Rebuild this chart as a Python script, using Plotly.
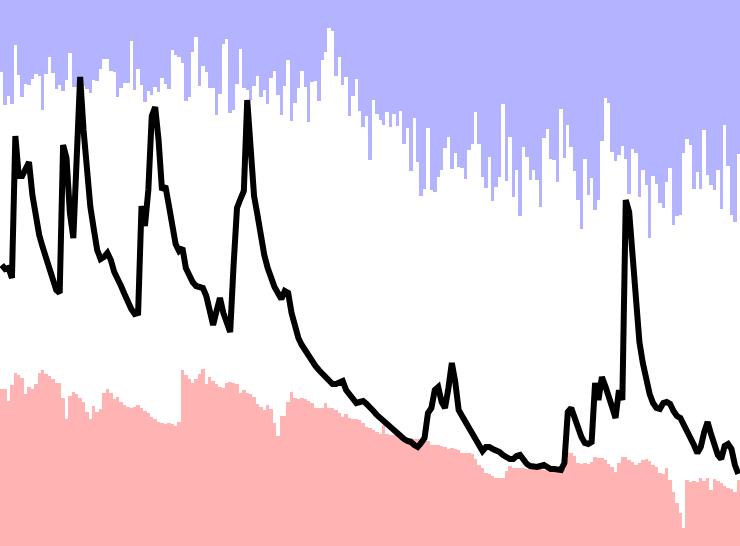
import plotly.graph_objects as go

# day index
days = list(range(1, 218))

# blue series (hanging from the top), length in chart units
blue = [72, 105, 96, 104, 45, 75, 97, 84, 85, 79, 74, 76, 110, 74, 57, 73, 89, 85, 91, 80,
        53, 87, 87, 87, 86, 89, 93, 80, 81, 69, 59, 59, 71, 72, 97, 88, 83, 83, 41, 90,
        69, 85, 102, 91, 95, 87, 92, 78, 84, 89, 50, 55, 57, 63, 101, 97, 52, 37, 86, 66,
        72, 88, 88, 115, 94, 44, 39, 113, 110, 84, 49, 88, 90, 100, 86, 76, 97, 90, 104, 78,
        71, 95, 115, 86, 60, 121, 103, 88, 71, 87, 122, 82, 81, 101, 60, 52, 28, 31, 76, 57,
        85, 77, 116, 96, 79, 111, 127, 116, 160, 100, 114, 120, 125, 112, 127, 114, 126, 111, 144, 128,
        171, 118, 162, 196, 189, 128, 190, 192, 177, 170, 148, 137, 169, 153, 167, 168, 179, 150, 144, 112,
        144, 177, 188, 157, 201, 187, 177, 104, 181, 137, 197, 170, 216, 147, 157, 180, 170, 180, 207, 138,
        129, 159, 160, 182, 109, 158, 125, 147, 171, 200, 229, 159, 195, 178, 210, 200, 141, 98, 103, 152,
        161, 155, 146, 159, 194, 149, 153, 197, 170, 185, 238, 176, 184, 203, 208, 182, 168, 225, 216, 215,
        153, 139, 145, 189, 172, 189, 130, 175, 185, 190, 170, 209, 125, 166, 215, 222, 154]

# red series (rising from the bottom)
red = [157, 157, 145.3, 161, 173.3, 171, 167.7, 151.7, 159.3, 156.7, 162, 172.7, 176, 172, 170.3, 166.7, 162.7, 162.7, 147.7, 127,
       150.3, 153.7, 151.7, 148.3, 143.7, 133.7, 126.7, 140, 134.3, 136.7, 153.3, 157, 153.3, 146.7, 148.7, 143.7, 141, 138.7, 137.7, 139.3,
       141, 137.7, 135.3, 132.7, 129.3, 126.7, 124.3, 122.7, 122, 122.7, 122, 120.3, 123.7, 176, 171, 166.7, 162.7, 166.7, 172, 177,
       162, 169.3, 165, 161.7, 158.7, 157.7, 163.3, 163.7, 163.3, 161.7, 153.3, 156, 153.3, 151.7, 149.3, 141.7, 138.7, 136, 141, 137,
       123.3, 110, 130.3, 130, 143.7, 153.7, 148.3, 146.7, 147.7, 147, 145, 142.7, 138.3, 138.3, 138.3, 143.3, 138.3, 137.7, 136, 133.3,
       129.3, 131.7, 127.7, 127, 126.7, 126, 123.3, 119.3, 117.7, 116, 114.3, 112, 121, 112, 111, 111, 110, 109, 109, 108,
       108, 107, 107, 107, 106, 105.3, 101, 101, 101, 100, 98.7, 97, 98.3, 96.7, 96, 93.3, 92.7, 92.7, 92, 86.7,
       81, 77.7, 73.3, 72, 70, 67.7, 68.3, 68.3, 75.3, 80, 78, 78, 78, 78, 77, 77, 78, 77, 77, 76,
       77, 77, 78, 77, 76, 77, 94.3, 92.7, 90, 83.3, 82, 83.3, 82, 84.3, 88.7, 87.7, 87.7, 86, 81.7, 78.7,
       73.7, 83.3, 88.7, 88.7, 86, 84.3, 81, 83.3, 86, 87, 85, 81, 78.7, 72.7, 71.7, 77.7, 66, 54.3, 42.7, 32.7,
       17.7, 66, 64.3, 65.3, 64.3, 67.7, 65, 67.7, 56, 66.7, 65, 62.7, 60, 58.3, 56.7, 54.3, 66]

# black line series
line = [281, 277, 278, 268, 410, 370, 370, 376, 384, 351, 326, 311, 299, 288, 276, 265, 256, 253, 401, 388,
        333, 308, 389, 469, 416, 368, 339, 317, 296, 287, 289, 293, 286, 274, 265, 260, 252, 244, 237, 232,
        233, 340, 320, 356, 430, 439, 406, 356, 360, 341, 317, 302, 295, 298, 278, 269, 264, 260, 259, 258,
        250, 236, 221, 235, 248, 233, 222, 214, 281, 338, 347, 355, 446, 396, 350, 331, 308, 291, 278, 266,
        259, 253, 247, 255, 253, 233, 219, 208, 201, 195, 189, 184, 180, 176, 172, 169, 165, 162, 162, 164,
        165, 156, 151, 146, 143, 144, 145, 142, 139, 135, 131, 128, 124, 121, 118, 115, 112, 110, 107, 105,
        104, 101, 99, 103, 108, 133, 138, 156, 159, 144, 138, 158, 183, 164, 136, 130, 124, 117, 110, 104,
        99, 95, 99, 99, 97, 96, 94, 91, 89, 87, 87, 90, 91, 86, 82, 80, 79, 79, 80, 81,
        79, 77, 77, 76, 76, 83, 134, 138, 128, 115, 109, 103, 102, 104, 163, 146, 169, 160, 151, 139,
        128, 156, 146, 346, 334, 288, 238, 204, 183, 167, 152, 143, 138, 137, 143, 144, 142, 135, 130, 128,
        122, 116, 108, 101, 93, 99, 114, 124, 112, 101, 91, 87, 100, 102, 97, 81, 72]

fig = go.Figure()
fig.add_trace(go.Bar(x=days, y=blue, width=1, marker=dict(color="#b3b3ff", line=dict(width=0)),
                     yaxis="y", hoverinfo="skip"))
fig.add_trace(go.Bar(x=days, y=red, width=1, marker=dict(color="#ffb3b3", line=dict(width=0)),
                     yaxis="y2", hoverinfo="skip"))
fig.add_trace(go.Scatter(x=days, y=line, mode="lines", line=dict(color="black", width=6),
                         yaxis="y2", hoverinfo="skip"))

fig.update_layout(
    width=740, height=546,
    margin=dict(l=0, r=0, t=0, b=0),
    paper_bgcolor="white", plot_bgcolor="white",
    showlegend=False, barmode="overlay", bargap=0,
    xaxis=dict(range=[0.5, 217.5], visible=False),
    yaxis=dict(range=[546, 0], visible=False),
    yaxis2=dict(range=[0, 546], overlaying="y", visible=False),
)
fig.write_html("out.html", config={"displayModeBar": False},
               post_script="document.body.style.margin='0';document.body.style.overflow='hidden';")
